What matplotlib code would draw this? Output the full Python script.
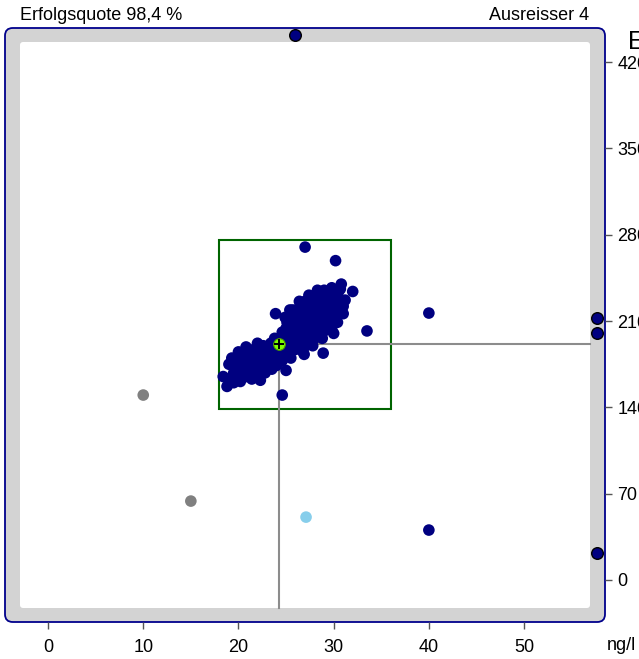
import matplotlib
matplotlib.use("Agg")
import matplotlib.pyplot as plt
from matplotlib.patches import FancyBboxPatch, Rectangle

plt.rcParams['font.family'] = ['Liberation Sans', 'DejaVu Sans']

# ---------------- data ----------------
title_left = "Erfolgsquote 98,4 %"
title_right = "Ausreisser 4"
unit_label = "ng/l"
x_ticks = [0, 10, 20, 30, 40, 50]
y_ticks = [0, 70, 140, 210, 280, 350, 420]
y_tick_labels = ["0", "70", "140", "210", "280", "350", "420"]

# main results (navy)
cluster = [
    # lower part of the cloud
    (18.8, 157), (18.4, 165), (19.0, 175), (19.2, 163), (19.5, 160), (19.5, 168),
    (19.8, 173), (20.0, 181), (20.0, 164), (20.2, 161), (20.3, 169), (20.5, 176),
    (20.6, 183), (20.8, 165), (21.0, 171), (21.0, 178), (21.2, 186), (21.4, 163),
    (21.5, 168), (21.6, 174), (21.7, 181), (21.8, 188), (22.0, 166), (22.2, 172),
    (22.3, 162), (22.4, 178), (22.5, 185), (22.6, 190), (22.8, 168), (23.0, 174),
    (23.0, 181), (23.2, 187), (23.4, 192), (23.5, 171), (23.6, 177), (23.8, 184),
    (24.0, 174), (24.0, 190), (24.2, 180), (24.4, 186), (24.6, 178), (24.9, 181),
    (25.2, 184), (25.5, 180), (20.8, 189), (22.0, 192), (23.8, 196), (19.3, 180),
    # upper part of the cloud
    (24.5, 195), (24.6, 201),
    (25.0, 188), (25.1, 192), (24.9, 198), (25.0, 204), (25.1, 209),
    (25.5, 186), (25.4, 190), (25.6, 196), (25.5, 202), (25.4, 208), (25.6, 213),
    (26.0, 187), (26.1, 192), (25.9, 198), (26.0, 204), (26.1, 210), (26.0, 217),
    (26.5, 188), (26.4, 194), (26.6, 200), (26.5, 206), (26.4, 212), (26.6, 218), (26.5, 223),
    (27.0, 190), (27.1, 196), (26.9, 202), (27.0, 208), (27.1, 214), (26.9, 220), (27.0, 226),
    (27.5, 193), (27.4, 199), (27.6, 205), (27.5, 211), (27.4, 217), (27.6, 223), (27.5, 228),
    (28.0, 196), (28.1, 202), (27.9, 208), (28.0, 214), (28.1, 220), (27.9, 226), (28.0, 231),
    (28.5, 199), (28.4, 205), (28.6, 211), (28.5, 217), (28.4, 223), (28.6, 229), (28.5, 233),
    (29.0, 202), (29.1, 208), (28.9, 214), (29.0, 220), (29.1, 226), (28.9, 232), (29.0, 235),
    (29.5, 206), (29.4, 212), (29.6, 218), (29.5, 224), (29.4, 230), (29.6, 234),
    (30.0, 210), (30.1, 216), (29.9, 222), (30.0, 228), (30.1, 233),
    (30.5, 216), (30.4, 222), (30.6, 228), (30.5, 234),
    (31.0, 222), (26.8, 185), (27.8, 190), (28.8, 196), (29.8, 203), (30.4, 209),
    (31.0, 216), (31.2, 227), (24.9, 213), (25.7, 219), (26.4, 226), (27.4, 231),
    (28.3, 235), (29.8, 237), (30.7, 236),
    # scattered single results
    (27.0, 270), (30.2, 259), (30.8, 240), (32.0, 234), (33.5, 202), (23.9, 216),
    (25.4, 219), (28.9, 184), (26.9, 183), (25.0, 170), (24.6, 150), (30.0, 200),
    (20.0, 185), (40.0, 216.5), (40.0, 40.5),
]
cluster_x = [p[0] for p in cluster]
cluster_y = [p[1] for p in cluster]

# outliers drawn on the frame
outlier_x = [25.9, 57.7, 57.7, 57.7]
outlier_y = [442, 212.5, 200.3, 21.9]

# grey results
grey_x = [10.0, 15.0]
grey_y = [150, 64]

# light blue result
lightblue_x = [27.1]
lightblue_y = [51]

# own result (crosshair)
own_x = 24.3
own_y = 191.4

# tolerance box
box_x = [18.0, 36.0]
box_y = [138.7, 275.7]

# axis limits
x_lim = (-4.52, 58.5)
y_lim = (-34.07, 447.7)
inner_x = (-2.9, 56.9)
inner_y = (-22.7, 436.0)

# ---------------- figure ----------------
W, H = 639, 659
fig = plt.figure(figsize=(W / 100, H / 100), dpi=100)
ax = fig.add_axes([5 / W, 1 - 622 / H, 600 / W, 594 / H])
ax.set_xlim(*x_lim)
ax.set_ylim(*y_lim)
for s in ax.spines.values():
    s.set_visible(False)
ax.patch.set_visible(False)

# frame: blue rounded border, grey band, white inner field
outer = FancyBboxPatch((0, 0), 1, 1, boxstyle="round,pad=0,rounding_size=0.013",
                       transform=ax.transAxes, facecolor="#d3d3d3",
                       edgecolor="#00008b", linewidth=1.3, zorder=0, clip_on=False)
ax.add_patch(outer)
inner = FancyBboxPatch((15 / 600, 14 / 594), 570 / 600, 566 / 594,
                       boxstyle="round,pad=0,rounding_size=0.005",
                       transform=ax.transAxes, facecolor="white",
                       edgecolor="none", zorder=0.5, clip_on=False)
ax.add_patch(inner)

# tolerance box
ax.add_patch(Rectangle((box_x[0], box_y[0]), box_x[1] - box_x[0], box_y[1] - box_y[0],
                       fill=False, edgecolor="#006400", linewidth=1.5, zorder=2))

# crosshair lines
ax.plot([own_x, own_x], [inner_y[0], own_y], color="#8c8c8c", lw=1.5, zorder=3)
ax.plot([own_x, inner_x[1]], [own_y, own_y], color="#8c8c8c", lw=1.5, zorder=3)

dot = 70
ax.scatter(cluster_x, cluster_y, s=dot, color="#000080", edgecolors="none", zorder=4)
ax.scatter(grey_x, grey_y, s=dot, color="#808080", edgecolors="none", zorder=4)
ax.scatter(lightblue_x, lightblue_y, s=dot, color="#87ceeb", edgecolors="none", zorder=4)
ax.scatter(outlier_x, outlier_y, s=dot, color="#000080", edgecolors="black",
           linewidths=1.0, zorder=5, clip_on=False)
ax.scatter([own_x], [own_y], s=dot, color="#7fff00", edgecolors="#4c9900",
           linewidths=0.8, zorder=6)
ax.scatter([own_x], [own_y], s=45, marker="+", color="black", linewidths=1.4, zorder=7)

# ticks
ax.set_xticks(x_ticks)
ax.set_xticklabels([str(t) for t in x_ticks])
ax.set_yticks(y_ticks)
ax.set_yticklabels(y_tick_labels)
ax.yaxis.tick_right()
ax.tick_params(axis="x", direction="out", length=5, width=1, color="#555555",
               labelsize=13, pad=7)
ax.tick_params(axis="y", direction="out", length=5, width=1, color="#555555",
               labelsize=13, pad=4)
for lab in ax.get_yticklabels():
    lab.set_horizontalalignment("left")

# texts
fig.text(20 / W, 1 - 15 / H, title_left, ha="left", va="center", fontsize=13)
fig.text(589 / W, 1 - 15 / H, title_right, ha="right", va="center", fontsize=13)
fig.text(607 / W, 1 - 645 / H, unit_label, ha="left", va="center", fontsize=13)
fig.text(628 / W, 1 - 42 / H, "E", ha="left", va="center", fontsize=18)

fig.savefig("out.png", dpi=100)
